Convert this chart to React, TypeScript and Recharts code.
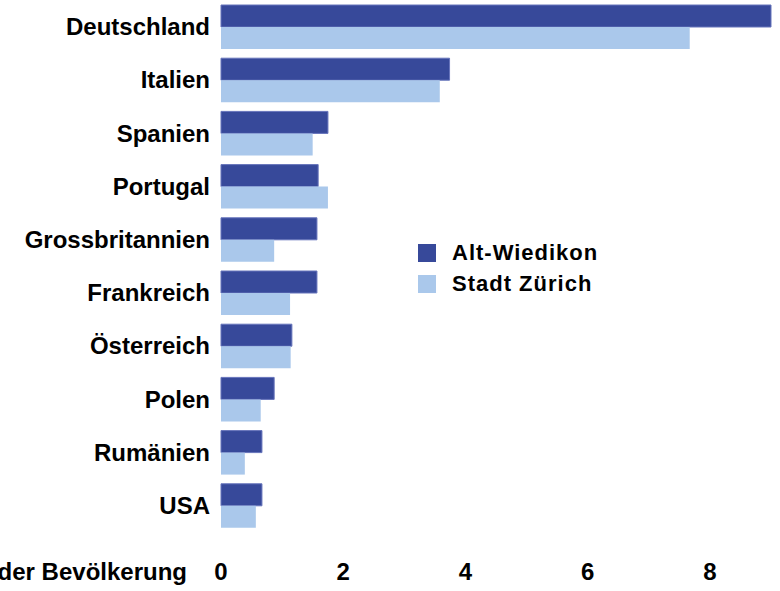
import React from "react"
import { BarChart, Bar, XAxis, YAxis, Legend } from "recharts"

const laender = [
  "Deutschland",
  "Italien",
  "Spanien",
  "Portugal",
  "Grossbritannien",
  "Frankreich",
  "Österreich",
  "Polen",
  "Rumänien",
  "USA",
]
const altWiedikon = [9.0, 3.74, 1.75, 1.59, 1.57, 1.57, 1.16, 0.87, 0.67, 0.67]
const stadtZuerich = [7.67, 3.58, 1.5, 1.75, 0.87, 1.13, 1.14, 0.65, 0.39, 0.57]
const xTicks = [0, 2, 4, 6, 8]

const serien = [
  { key: "altWiedikon", name: "Alt-Wiedikon", color: "#37499a" },
  { key: "stadtZuerich", name: "Stadt Zürich", color: "#aac8eb" },
]

const data = laender.map((name, i) => ({
  name,
  altWiedikon: altWiedikon[i],
  stadtZuerich: stadtZuerich[i],
}))

const font = "'Liberation Sans', Arial, Helvetica, sans-serif"
const tickStyle = { fill: "#000", fontSize: 24, fontWeight: "bold", fontFamily: font }

const LegendBox = () => (
  <div style={{ fontFamily: font }}>
    {serien.map((s) => (
      <div key={s.key} style={{ display: "flex", alignItems: "center", height: 31 }}>
        <span style={{ width: 18, height: 18, background: s.color, marginRight: 16 }} />
        <span style={{ fontSize: 22, fontWeight: "bold", letterSpacing: 1, color: "#000" }}>{s.name}</span>
      </div>
    ))}
  </div>
)

const App: React.FC = () => {
  return (
    <div style={{ position: "absolute", left: 0, top: 0, width: 780, height: 591, fontFamily: font }}>
      <BarChart
        width={780}
        height={591}
        data={data}
        layout="vertical"
        margin={{ top: 0, right: 9, bottom: 19, left: 0 }}
        barGap={0}
        barSize={22}
      >
        <XAxis
          type="number"
          domain={[0, 9]}
          ticks={xTicks}
          axisLine={false}
          tickLine={false}
          tickMargin={25}
          height={40}
          tick={tickStyle}
        />
        <YAxis
          type="category"
          dataKey="name"
          width={221}
          axisLine={false}
          tickLine={false}
          tickMargin={5}
          interval={0}
          tick={tickStyle}
        />
        <Legend
          layout="vertical"
          align="center"
          verticalAlign="middle"
          content={<LegendBox />}
          wrapperStyle={{ left: 418, top: 237, width: 260 }}
        />
        <Bar
          dataKey="altWiedikon"
          name="Alt-Wiedikon"
          fill="#37499a"
          stroke="#6674bb"
          strokeWidth={1}
          isAnimationActive={false}
        />
        <Bar
          dataKey="stadtZuerich"
          name="Stadt Zürich"
          fill="#aac8eb"
          isAnimationActive={false}
        />
      </BarChart>
      <div
        style={{
          position: "absolute",
          top: 560,
          right: 593,
          fontSize: 24,
          lineHeight: "24px",
          fontWeight: "bold",
          whiteSpace: "nowrap",
          color: "#000",
        }}
      >
        Anteil in % der Bevölkerung
      </div>
    </div>
  )
}

export default App
